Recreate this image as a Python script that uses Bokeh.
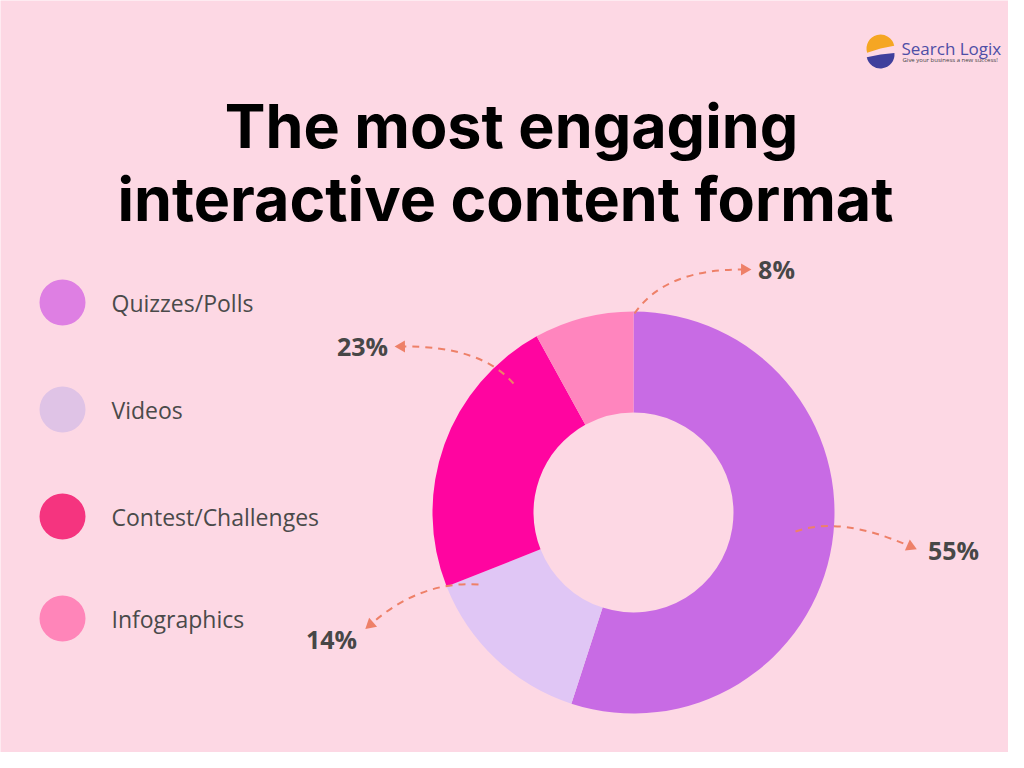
import numpy as np
from bokeh.plotting import figure
from bokeh.models import Range1d, ColumnDataSource
from bokeh.core.properties import value
from bokeh.embed import file_html
from bokeh.resources import INLINE

# ---------------- data ----------------
categories = ["Quizzes/Polls", "Videos", "Contest/Challenges", "Infographics"]
shares = [55, 14, 23, 8]
labels = ["55%", "14%", "23%", "8%"]
title_lines = ["The most engaging", "interactive content format"]

# ---------------- styles / layout ----------------
BG = "#FDD8E4"
slice_colors = ["#C86BE4", "#E0C6F5", "#FF05A0", "#FF85BE"]
legend_colors = ["#DE7FE3", "#DFC3E6", "#F5347F", "#FF85B9"]
ARROW = "#EE8068"
H = 768  # reference height; screen y -> data y = H - y

def Y(v):
    return H - np.asarray(v, dtype=float)

cx, cy = 633, 512
r_in, r_out = 100, 201

# label anchor positions (screen coords) per category
label_pos = [(953, 549), (331, 638), (362, 345), (776, 268)]
# arrow curves: start, control, end (screen coords) per category
arrow_start = [(795, 531), (478, 584), (513, 383), (634, 313)]
arrow_ctrl = [(840, 515), (420, 580), (480, 345), (665, 268)]
arrow_end = [(910, 546), (370, 624), (401, 346), (744, 269)]

legend_y = [302, 409, 516, 618]

p = figure(width=1008, height=752, output_backend="svg", toolbar_location=None,
           x_range=Range1d(0, 1008), y_range=Range1d(16, 768),
           background_fill_color=BG, border_fill_color=BG, min_border=0)
p.axis.visible = False
p.grid.visible = False
p.outline_line_color = None

# ---- donut ----
frac = np.array(shares, dtype=float) / sum(shares)
cum = np.concatenate([[0], np.cumsum(frac)])
start = np.pi / 2 - 2 * np.pi * cum[1:]
end = np.pi / 2 - 2 * np.pi * cum[:-1]
src = ColumnDataSource(dict(start=start, end=end, color=slice_colors,
                            x=[cx] * 4, y=list(Y([cy] * 4))))
p.annular_wedge(x="x", y="y", inner_radius=r_in, outer_radius=r_out,
                start_angle="start", end_angle="end", fill_color="color",
                line_color=None, source=src)

# ---- arrows ----
sx = [s[0] for s in arrow_start]; sy = Y([s[1] for s in arrow_start])
qx = [s[0] for s in arrow_ctrl]; qy = Y([s[1] for s in arrow_ctrl])
ex = [s[0] for s in arrow_end]; ey = Y([s[1] for s in arrow_end])
p.quadratic(x0=sx, y0=sy, x1=ex, y1=ey, cx=qx, cy=qy,
            line_color=ARROW, line_width=2, line_dash="7 6")
ang = [np.arctan2(ey[i] - qy[i], ex[i] - qx[i]) - np.pi / 2 for i in range(4)]
p.scatter(x=ex, y=ey, marker="triangle", size=12, angle=ang,
          fill_color=ARROW, line_color=None)

# ---- percentage labels ----
p.text(x=[l[0] for l in label_pos], y=Y([l[1] for l in label_pos]), text=labels,
       text_align="center", text_baseline="middle", text_font=value("Open Sans"),
       text_font_style="bold", text_font_size="25px", text_color="#474747")

# ---- legend ----
p.scatter(x=[62] * 4, y=Y(legend_y), size=46, marker="circle",
          fill_color=legend_colors, line_color=None)
p.text(x=[111] * 4, y=Y(legend_y), text=categories, text_align="left",
       text_baseline="middle", text_font=value("Open Sans"),
       text_font_size="23px", text_color="#4A4A4A")

# ---- title ----
p.text(x=[511, 505], y=Y([125, 198]), text=title_lines, text_align="center",
       text_baseline="alphabetic", text_font=value("Inter"), text_font_style="bold",
       text_font_size="61px", text_color="#000000")

# ---- logo ----
p.wedge(x=[880], y=Y([48]), radius=14, start_angle=0.2, end_angle=np.pi + 0.3,
        fill_color="#F5A623", line_color=None)
p.wedge(x=[880], y=Y([54]), radius=14, start_angle=np.pi + 0.2, end_angle=2 * np.pi + 0.1,
        fill_color="#3F3F9C", line_color=None)
p.text(x=[901], y=Y([48]), text=["Search Logix"], text_align="left",
       text_baseline="alphabetic", text_font=value("Open Sans"),
       text_font_size="17px", text_color="#4E4EA6")
p.text(x=[902], y=Y([59]), text=["Give your business a new success!"], text_align="left",
       text_baseline="alphabetic", text_font=value("Open Sans"),
       text_font_size="6px", text_color="#444444")

open("out.html", "w").write(file_html(p, INLINE))
